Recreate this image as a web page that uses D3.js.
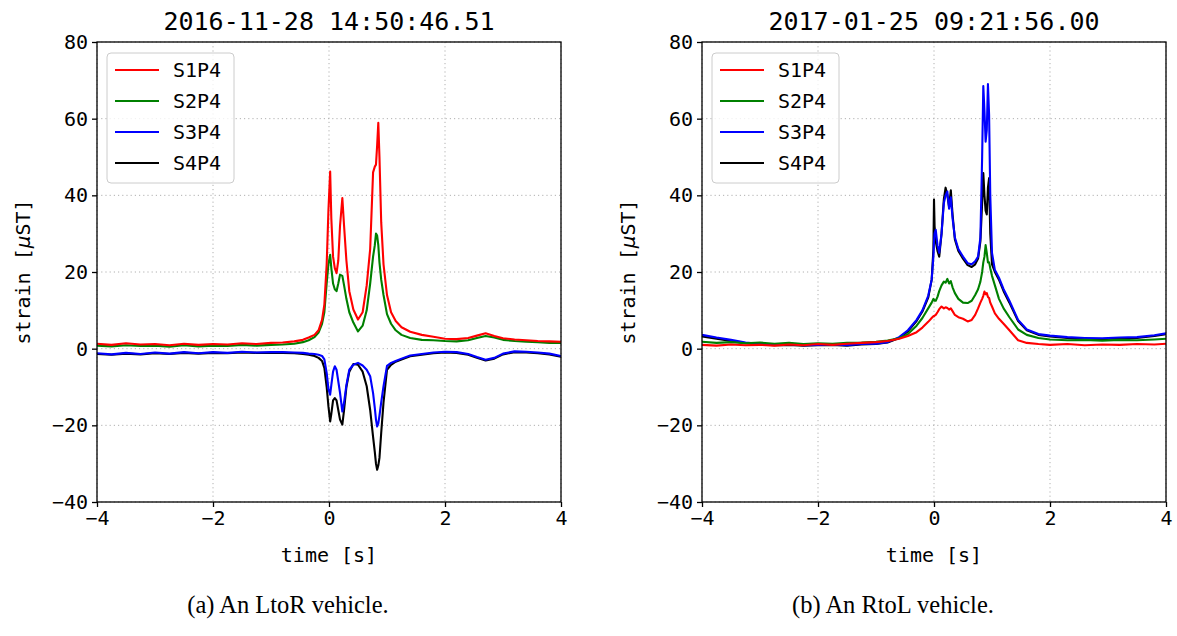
<!DOCTYPE html>
<html>
<head>
<meta charset="utf-8">
<script src="https://cdnjs.cloudflare.com/ajax/libs/d3/7.8.5/d3.min.js"></script>
<style>
  body { margin: 0; background: #fff; }
  text { fill: #000; }
  .mono { font-family: "DejaVu Sans Mono", monospace; }
  .caption { font-family: "Liberation Serif", "Times New Roman", serif; font-size: 24.5px; }
</style>
</head>
<body>
<svg width="1177" height="636"></svg>
<script>
var seriesNames = ["S1P4", "S2P4", "S3P4", "S4P4"];
var seriesColors = ["#ff0000", "#008000", "#0000ff", "#000000"];
var xTicks = [-4, -2, 0, 2, 4];
var yTicks = [-40, -20, 0, 20, 40, 60, 80];

// (a) LtoR vehicle
var titleA = "2016-11-28 14:50:46.51";
var captionA = "(a) An LtoR vehicle.";
var timeA = [-4.0, -3.75, -3.5, -3.25, -3.0, -2.75, -2.5, -2.25, -2.0, -1.75, -1.5, -1.25, -1.0,
  -0.8, -0.6, -0.45, -0.35, -0.25, -0.18, -0.12, -0.08, -0.04, -0.01,
  0.02, 0.04, 0.07, 0.1, 0.13, 0.16, 0.19, 0.23, 0.26, 0.3,
  0.35, 0.42, 0.5, 0.58, 0.65, 0.71, 0.76, 0.79, 0.81, 0.83, 0.85, 0.87, 0.9, 0.94,
  1.0, 1.07, 1.15, 1.25, 1.4, 1.6, 1.8, 2.0, 2.2, 2.4, 2.55, 2.7, 2.85, 3.0, 3.2, 3.4, 3.6, 3.8, 4.0];
var s1a = [1.3, 1.0, 1.4, 1.1, 1.2, 0.9, 1.3, 1.0, 1.2, 1.1, 1.4, 1.2, 1.5,
  1.6, 1.9, 2.3, 2.9, 3.6, 4.8, 7.5, 11.5, 22, 36,
  46.2, 34, 24, 21, 19.7, 23, 32, 39.3, 32, 23,
  15, 10.2, 7.6, 9.5, 16.5, 26, 46, 47.5, 48, 53, 58.9, 50, 33, 22,
  14, 9.5, 7.2, 5.6, 4.4, 3.6, 3.1, 2.6, 2.5, 2.8, 3.4, 4.0, 3.3, 2.7, 2.4, 2.2, 2.0, 1.9, 1.8];
var s2a = [0.8, 0.6, 0.9, 0.7, 0.8, 0.5, 0.9, 0.6, 0.8, 0.7, 1.0, 0.8, 1.0,
  1.1, 1.3, 1.7, 2.2, 3.0, 4.2, 6.5, 9.5, 17, 22,
  24.5, 21, 17, 15.5, 15, 17, 19.3, 19, 16.5, 13,
  9.5, 6.8, 4.5, 6.0, 10, 17, 24, 27, 30, 29.5, 27, 22.5, 18, 14,
  9, 6.5, 4.8, 3.6, 2.8, 2.3, 2.2, 2.0, 1.9, 2.2, 2.8, 3.3, 2.9, 2.3, 2.0, 1.8, 1.7, 1.5, 1.5];
var s3a = [-1.2, -1.5, -1.1, -1.4, -1.0, -1.3, -0.9, -1.2, -0.9, -1.1, -0.8, -1.0, -0.9,
  -0.9, -1.0, -1.1, -1.3, -1.4, -1.6, -1.9, -2.8, -6.3, -10.5,
  -12, -9.5, -6, -4.6, -5.5, -8.5, -11.5, -16.4, -14, -9.5,
  -5.5, -4.2, -3.7, -4.4, -5.5, -7.2, -11.6, -15.5, -18.5, -20.3, -19.5, -17.5, -14, -9.8,
  -4.5, -3.7, -3.2, -2.6, -1.8, -1.4, -1.0, -0.8, -0.9, -1.4, -2.2, -2.9, -2.4, -1.3, -0.7, -0.8, -1.0, -1.3, -1.9];
var s4a = [-1.4, -1.6, -1.3, -1.5, -1.2, -1.4, -1.1, -1.3, -1.1, -1.2, -1.0, -1.1, -1.1,
  -1.1, -1.2, -1.4, -1.6, -1.9, -2.4, -3.2, -5, -10, -15,
  -19, -17, -13.5, -12.9, -13.5, -16, -18.5, -19.8, -16, -10,
  -6, -4, -4.2, -6, -9.8, -16, -23, -27, -30, -31.6, -30.5, -28.5, -22, -14,
  -5.5, -4.2, -3.4, -2.8, -2.0, -1.6, -1.2, -1.0, -1.1, -1.6, -2.4, -3.1, -2.6, -1.5, -0.9, -1.0, -1.2, -1.5, -2.1];

// (b) RtoL vehicle
var titleB = "2017-01-25 09:21:56.00";
var captionB = "(b) An RtoL vehicle.";
var timeB = [-4.0, -3.75, -3.5, -3.25, -3.0, -2.75, -2.5, -2.25, -2.0, -1.75, -1.5, -1.25, -1.0,
  -0.8, -0.6, -0.45, -0.3, -0.2, -0.1, -0.04, -0.01, 0.0, 0.01,
  0.03, 0.06, 0.09, 0.13, 0.17, 0.2, 0.23, 0.26, 0.29, 0.32, 0.36,
  0.42, 0.5, 0.58, 0.65, 0.71, 0.76, 0.8, 0.83, 0.85, 0.87, 0.89, 0.91, 0.93, 0.95, 0.97,
  1.0, 1.05, 1.12, 1.2, 1.3, 1.45, 1.6, 1.8, 2.0, 2.3, 2.6, 2.9, 3.2, 3.5, 3.8, 4.0];
var s1b = [1.0, 0.8, 1.1, 0.9, 1.0, 0.8, 1.1, 0.9, 1.2, 1.0, 1.3, 1.5, 1.7,
  2.0, 2.6, 3.3, 4.3, 5.5, 7.0, 8.0, 8.5, 8.4, 8.6,
  8.8, 9.5, 10.3, 11, 10.5, 10.8, 10.6, 10.2, 10.5, 9.8, 8.8,
  8.2, 7.8, 7.1, 7.5, 8.8, 10.5, 12, 13, 13.8, 14.9, 14.2, 14.5, 13.5, 13.2, 12,
  11, 9.2, 7.8, 6.5, 4.8, 2.2, 1.5, 1.2, 1.0, 1.2, 0.9, 1.1, 1.0, 1.2, 1.1, 1.3];
var s2b = [1.8, 1.5, 1.7, 1.4, 1.6, 1.3, 1.5, 1.2, 1.4, 1.3, 1.5, 1.6, 1.8,
  2.1, 2.7, 3.8, 6.0, 8.0, 10.5, 12, 13, 12.8, 12.5,
  12.5, 13.5, 15, 16.5, 17.5, 17.2, 18.2, 17, 17.6, 16, 14.5,
  13, 12, 11.9, 12.5, 14, 15.5, 17.5, 20, 22.5, 24, 27, 25, 22.5, 22.5, 21,
  19, 16.5, 13, 10.5, 8.2, 5, 3.6, 2.8, 2.4, 2.2, 2.3, 2.1, 2.3, 2.2, 2.4, 2.6];
var s3b = [3.6, 2.9, 2.3, 1.6, 1.3, 1.1, 1.2, 0.9, 1.0, 1.1, 0.9, 1.2, 1.3,
  1.7, 3.0, 4.8, 7.5, 10, 13.8, 18, 24, 28, 30,
  31, 27, 25, 30, 38, 40, 41, 36.5, 39.5, 34, 29,
  26, 24, 22.3, 22, 22.8, 24, 29, 50, 68.5, 62, 54, 57, 69, 61, 40,
  25, 20.5, 18.5, 15.5, 12.5, 7.5, 5, 3.8, 3.4, 3.0, 2.8, 2.7, 2.9, 3.0, 3.5, 4.0];
var s4b = [3.2, 2.6, 2.0, 1.4, 1.1, 0.9, 1.0, 0.8, 0.9, 1.0, 0.8, 1.1, 1.2,
  1.6, 2.8, 4.5, 7.2, 9.7, 13.3, 18, 26, 38.9, 32,
  28, 25.5, 24, 30, 39, 42, 40, 37, 41.3, 35, 28.5,
  25.5, 23.5, 21.8, 21.3, 22, 23.5, 28, 38, 45.8, 40, 36, 35, 42, 44.5, 30,
  22, 20, 18, 15, 12, 7.2, 4.8, 3.6, 3.2, 2.8, 2.6, 2.5, 2.7, 2.8, 3.3, 3.8];

var svg = d3.select("svg");
var plotTop = 42, plotBottom = 502, plotW = 464;

function drawPanel(left, title, caption, captionX, times, values, clipId) {
  var x = d3.scaleLinear().domain([-4, 4]).range([left, left + plotW]);
  var y = d3.scaleLinear().domain([-40, 80]).range([plotBottom, plotTop]);

  var g = svg.append("g");

  g.append("clipPath").attr("id", clipId)
    .append("rect")
      .attr("x", left).attr("y", plotTop)
      .attr("width", plotW).attr("height", plotBottom - plotTop);

  // grid
  g.append("g").selectAll("line")
    .data(xTicks)
    .enter().append("line")
      .attr("x1", function(d) { return x(d); })
      .attr("x2", function(d) { return x(d); })
      .attr("y1", plotTop).attr("y2", plotBottom)
      .attr("stroke", "#b0b0b0").attr("stroke-width", 1)
      .attr("stroke-dasharray", "1.2,3");
  g.append("g").selectAll("line")
    .data(yTicks)
    .enter().append("line")
      .attr("x1", left).attr("x2", left + plotW)
      .attr("y1", function(d) { return y(d); })
      .attr("y2", function(d) { return y(d); })
      .attr("stroke", "#b0b0b0").attr("stroke-width", 1)
      .attr("stroke-dasharray", "1.2,3");

  // series, black first so blue sits on top like the original
  var line = d3.line()
      .x(function(d, i) { return x(times[i]); })
      .y(function(d) { return y(d); });

  var order = [3, 2, 1, 0];
  g.append("g").attr("clip-path", "url(#" + clipId + ")")
    .selectAll("path")
    .data(order)
    .enter().append("path")
      .attr("d", function(k) { return line(values[k]); })
      .attr("fill", "none")
      .attr("stroke", function(k) { return seriesColors[k]; })
      .attr("stroke-width", 2.1)
      .attr("stroke-linejoin", "round");

  // axes
  var minus = function(d) { return d < 0 ? "\u2212" + (-d) : d; };
  var xAxis = g.append("g")
      .attr("transform", "translate(0," + plotBottom + ")")
      .call(d3.axisBottom(x).tickValues(xTicks).tickSize(5).tickPadding(4).tickFormat(minus));
  var yAxis = g.append("g")
      .attr("transform", "translate(" + left + ",0)")
      .call(d3.axisLeft(y).tickValues(yTicks).tickSize(5).tickPadding(4).tickFormat(minus));
  [xAxis, yAxis].forEach(function(a) {
    a.attr("font-size", 20).attr("font-family", "DejaVu Sans Mono");
    a.selectAll("text").attr("fill", "#000");
    a.selectAll("line").attr("stroke", "#000").attr("stroke-width", 1.3);
    a.select(".domain").remove();
  });

  g.append("rect")
      .attr("x", left).attr("y", plotTop)
      .attr("width", plotW).attr("height", plotBottom - plotTop)
      .attr("fill", "none").attr("stroke", "#000").attr("stroke-width", 1.3);

  // legend
  var lg = g.append("g").attr("transform", "translate(" + (left + 10) + "," + (plotTop + 11) + ")");
  lg.append("rect")
      .attr("width", 127).attr("height", 130).attr("rx", 4)
      .attr("fill", "#fff").attr("fill-opacity", 0.8)
      .attr("stroke", "#cccccc").attr("stroke-width", 1);
  var item = lg.selectAll("g.item")
    .data(seriesNames)
    .enter().append("g")
      .attr("class", "item")
      .attr("transform", function(d, i) { return "translate(0," + (17 + i * 31) + ")"; });
  item.append("line")
      .attr("x1", 8).attr("x2", 52)
      .attr("stroke", function(d, i) { return seriesColors[i]; })
      .attr("stroke-width", 1.8);
  item.append("text")
      .attr("class", "mono")
      .attr("x", 66).attr("dy", "0.35em")
      .attr("font-size", 20)
      .text(function(d) { return d; });

  // labels
  g.append("text")
      .attr("class", "mono")
      .attr("x", left + plotW / 2).attr("y", 30)
      .attr("text-anchor", "middle").attr("font-size", 25)
      .text(title);
  g.append("text")
      .attr("class", "mono")
      .attr("x", left + plotW / 2).attr("y", 562)
      .attr("text-anchor", "middle").attr("font-size", 20)
      .text("time [s]");
  var yl = g.append("text")
      .attr("class", "mono")
      .attr("transform", "translate(" + (left - 67) + "," + ((plotTop + plotBottom) / 2) + ") rotate(-90)")
      .attr("text-anchor", "middle").attr("font-size", 20);
  yl.append("tspan").text("strain [");
  yl.append("tspan").attr("font-family", "DejaVu Sans").attr("font-style", "italic").text("\u03bc");
  yl.append("tspan").text("ST]");

  g.append("text")
      .attr("class", "caption")
      .attr("x", captionX).attr("y", 613)
      .attr("text-anchor", "middle")
      .text(caption);
}

drawPanel(97, titleA, captionA, 288, timeA, [s1a, s2a, s3a, s4a], "clipA");
drawPanel(702, titleB, captionB, 893, timeB, [s1b, s2b, s3b, s4b], "clipB");
</script>
</body>
</html>
